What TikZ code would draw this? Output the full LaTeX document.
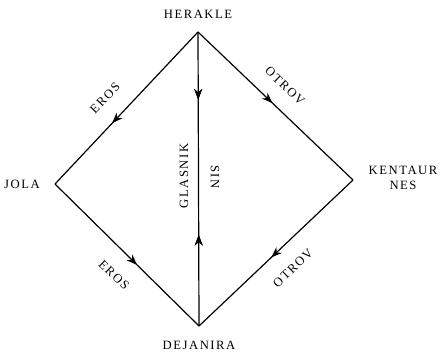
\documentclass[tikz,border=0pt]{standalone}
\usepackage{fontspec}
\newfontfamily\persfont[LetterSpace=12]{Liberation Serif}
\newcommand{\pfont}{\persfont\fontsize{9.5}{11}\selectfont}
\usetikzlibrary{arrows.meta, decorations.markings}

\begin{document}
\begin{tikzpicture}[
  x=0.75pt, y=-0.75pt,
  every node/.style={font=\pfont},
  person/.style={inner sep=0pt, align=center},
  rel/.style={inner sep=0pt},
  edge/.style={line width=0.9pt},
  tipat/.style={postaction={decorate}, decoration={markings,
    mark=at position #1 with {\arrow{Stealth[length=8pt,width=6pt]}}}},
  backat/.style={postaction={decorate}, decoration={markings,
    mark=at position #1 with {\arrowreversed{Stealth[length=8pt,width=6pt]}}}}
]
  \useasboundingbox (0,0) rectangle (441,352);

  % corners of the square
  \coordinate (her) at (198,32);
  \coordinate (jol) at (55,184);
  \coordinate (ken) at (353,180);
  \coordinate (dej) at (199,326);

  \node[person] (herlbl) at (198,14)  {HERAKLE};
  \node[person] (jollbl) at (22,184)  {JOLA};
  \node[person] (kenlbl) at (403,178) {KENTAUR\\NES};
  \node[person] (dejlbl) at (199,345) {DEJANIRA};

  \draw[edge, tipat=0.6]  (her) -- (jol);
  \draw[edge, tipat=0.48] (her) -- (ken);
  \draw[edge, tipat=0.57] (jol) -- (dej);
  \draw[edge, tipat=0.53] (ken) -- (dej);
  \draw[edge, tipat=0.23, backat=0.69] (her) -- (dej);

  \node[rel, rotate=46]  (eros1) at (105,98)  {EROS};
  \node[rel, rotate=-44] (otr1)  at (285,86)  {OTROV};
  \node[rel, rotate=-44] (eros2) at (114,275) {EROS};
  \node[rel, rotate=44]  (otr2)  at (293,268) {OTROV};
  \node[rel, rotate=90]  (glas)  at (184,176) {GLASNIK};
  \node[rel, rotate=-90] (sin)   at (215,177) {SIN};
\end{tikzpicture}
\end{document}
